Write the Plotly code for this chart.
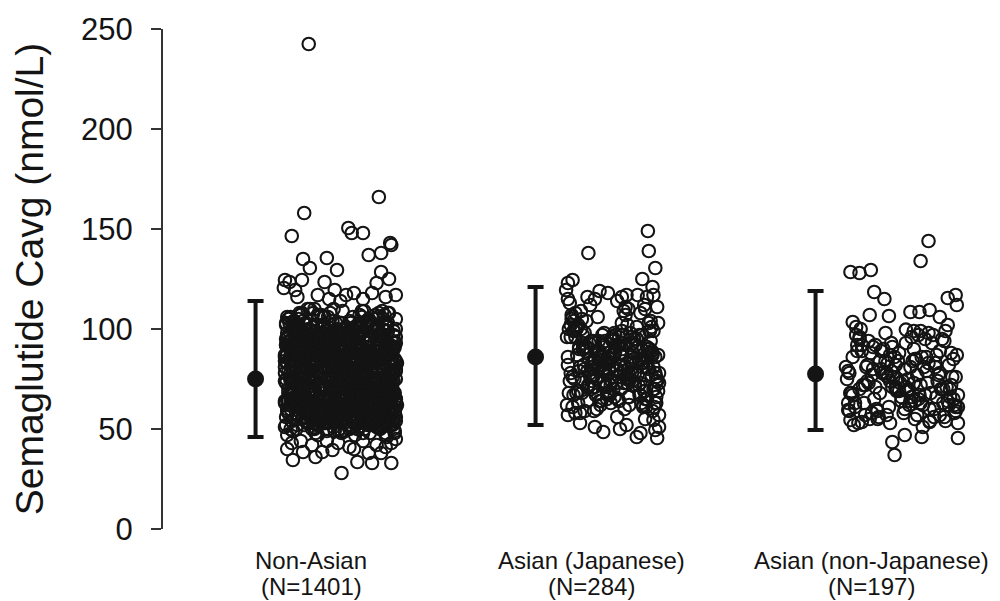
import plotly.graph_objects as go

# ---------------- data ----------------
group_names = ["Non-Asian", "Asian (Japanese)", "Asian (non-Japanese)"]
group_counts = ["(N=1401)", "(N=284)", "(N=197)"]
means = [75, 86, 77.5]
lower = [46, 52, 49.5]
upper = [114, 121, 119]
y_ticks = [0, 50, 100, 150, 200, 250]

# Non-Asian individual Cavg values (nmol/L)
nonasian_vals = [
    242.5, 166, 158, 146.5, 150.5, 148, 148, 143, 142, 138, 137, 135, 135.5, 130.5, 129.5, 128.5, 125, 123, 123.5, 124.5,
    123.5, 124.5, 120.5, 119.5, 119.5, 117, 118, 116, 117, 115, 118, 116, 115, 117, 114,
    43, 38.5, 34.5, 38.5, 39.5, 41, 33.5, 33, 38, 38, 33, 28, 43, 42, 40, 44, 41, 36, 43, 40, 44, 42, 45, 44,
    72, 58, 91, 64, 103, 49, 85, 77, 61, 96, 55, 88, 68, 107, 52, 79, 94, 63, 71, 99,
    83, 47, 66, 101, 59, 74, 92, 56, 109, 70, 62, 87, 50, 81, 97, 65, 76, 54, 90, 68,
    60, 95, 73, 51, 86, 104, 67, 78, 57, 93, 69, 48, 84, 100, 62, 75, 89, 53, 106, 66,
    98, 71, 55, 82, 64, 110, 59, 88, 73, 46, 94, 67, 80, 58, 102, 76, 52, 91, 69, 85,
    63, 79, 108, 54, 90, 72, 61, 97, 50, 84, 66, 105, 57, 77, 93, 60, 87, 70, 49, 99,
    74, 56, 89, 68, 103, 62, 81, 95, 53, 71, 86, 59, 100, 65, 78, 48, 92, 73, 107, 57,
    88, 64, 51, 96, 70, 83, 58, 109, 67, 75, 47, 91, 62, 80, 98, 55, 72, 86, 61, 94,
    53, 102, 77, 65, 87, 60, 93, 49, 79, 71, 104, 56, 84, 68, 97, 52, 90, 74, 63, 82,
    95, 69, 58, 106, 73, 50, 85, 64, 99, 61, 78, 89, 54, 70, 101, 66, 83, 57, 92, 76,
    67, 81, 94, 55, 72, 108, 63, 86, 48, 77, 91, 59, 68, 103, 74, 52, 96, 65, 80, 87,
    58, 73, 100, 62, 89, 56, 79, 93, 66, 51, 84, 105, 60, 75, 97, 69, 54, 88, 71, 110,
    82, 49, 65, 91, 76, 60, 98, 70, 55, 87, 63, 102, 78, 57, 94, 68, 81, 50, 74, 99,
    71, 96, 57, 84, 66, 107, 53, 80, 92, 64, 73, 48, 89, 61, 101, 77, 58, 95, 67, 83,
    104, 62, 78, 50, 93, 69, 85, 59, 97, 74, 56, 88, 65, 109, 52, 81, 70, 91, 60, 76,
    55, 90, 68, 99, 72, 61, 83, 47, 95, 66, 79, 103, 57, 86, 73, 64, 98, 51, 77, 92,
    64, 85, 52, 78, 106, 58, 91, 70, 62, 100, 75, 54, 87, 69, 96, 59, 82, 72, 49, 101,
    93, 57, 76, 63, 88, 50, 74, 97, 67, 81, 60, 108, 53, 79, 90, 65, 71, 85, 56, 98,
    61, 80, 102, 69, 54, 94, 73, 58, 86, 65, 92, 77, 49, 84, 67, 105, 62, 89, 75, 53,
    79, 66, 92, 56, 99, 71, 63, 87, 52, 76, 97, 60, 82, 70, 55, 94, 68, 101, 59, 85,
    50, 88, 70, 95, 61, 83, 57, 104, 74, 66, 90, 53, 78, 99, 64, 72, 86, 58, 93, 69,
    86, 59, 73, 107, 65, 52, 96, 68, 80, 57, 89, 62, 102, 75, 48, 83, 71, 97, 63, 77,
    68, 100, 54, 81, 92, 60, 76, 49, 88, 71, 64, 95, 58, 85, 110, 67, 79, 55, 91, 74,
    97, 63, 85, 58, 72, 103, 51, 90, 66, 78, 56, 93, 69, 61, 87, 74, 99, 53, 80, 65,
    57, 91, 67, 79, 53, 86, 70, 98, 62, 84, 73, 47, 96, 64, 76, 58, 89, 106, 60, 82,
    75, 52, 98, 64, 87, 59, 81, 69, 94, 55, 102, 66, 74, 91, 50, 78, 63, 95, 70, 57,
    89, 69, 60, 93, 76, 65, 108, 54, 72, 85, 61, 80, 56, 99, 68, 92, 51, 74, 87, 62,
    62, 84, 73, 51, 97, 79, 58, 88, 65, 101, 70, 53, 90, 63, 77, 96, 59, 83, 67, 104,
    101, 56, 87, 72, 60, 94, 67, 77, 50, 89, 64, 98, 71, 58, 84, 66, 93, 61, 75, 52,
    73, 95, 63, 86, 69, 55, 91, 80, 59, 106, 75, 62, 85, 52, 97, 70, 64, 88, 57, 81,
    54, 77, 82, 61, 100, 66, 59, 93, 71, 48, 86, 68, 79, 94, 60, 74, 103, 65, 90, 72,
    66, 92, 57, 81, 74, 103, 60, 87, 52, 95, 70, 78, 63, 99, 84, 55, 91, 68, 106, 73,
    85, 61, 97, 72, 50, 89, 66, 80, 58, 101, 76, 93, 64, 87, 53, 82, 70, 108, 61, 95,
    59, 77, 88, 65, 104, 71, 54, 92, 79, 67, 98, 62, 86, 73, 57, 90, 69, 103, 75, 51,
    94, 68, 81, 56, 99, 64, 87, 76, 60, 105, 72, 84, 58, 96, 67, 79, 91, 54, 88, 63,
    71, 102, 62, 90, 77, 53, 95, 69, 83, 61, 100, 74, 57, 89, 66, 107, 80, 59, 93, 70,
    52, 86, 73, 98, 64, 82, 59, 110, 70, 91, 55, 78, 96, 67, 84, 62, 101, 75, 58, 89,
    97, 60, 79, 67, 93, 56, 88, 74, 103, 63, 81, 70, 52, 99, 76, 65, 92, 83, 57, 106,
    64, 90, 55, 85, 72, 100, 61, 94, 68, 78, 108, 57, 87, 71, 97, 59, 82, 66, 104, 74,
    80, 69, 96, 58, 87, 75, 62, 101, 54, 92, 67, 83, 74, 60, 95, 78, 50, 88, 69, 98,
    58, 103, 76, 64, 91, 53, 84, 70, 97, 66, 79, 61, 106, 73, 86, 56, 93, 65, 81, 62,
    90, 65, 82, 73, 56, 98, 67, 77, 88, 59, 104, 71, 63, 92, 54, 85, 75, 99, 68, 79,
    75, 57, 94, 61, 86, 70, 109, 55, 80, 96, 64, 89, 72, 58, 101, 83, 66, 91, 60, 87,
    62, 99, 68, 88, 77, 54, 92, 81, 65, 73, 97, 59, 84, 106, 69, 76, 57, 94, 71, 52,
    87, 73, 60, 105, 66, 91, 58, 83, 71, 100, 62, 78, 95, 53, 88, 64, 80, 68, 102, 59,
    68, 84, 100, 57, 79, 63, 96, 72, 89, 55, 86, 69, 107, 61, 74, 93, 65, 82, 56, 90,
    99, 54, 77, 93, 62, 85, 70, 58, 102, 76, 67, 91, 57, 80, 97, 63, 87, 74, 51, 83,
    56, 95, 66, 74, 108, 60, 81, 89, 64, 70, 93, 53, 98, 76, 59, 85, 72, 104, 67, 78,
    83, 70, 90, 52, 86, 67, 99, 63, 76, 94, 58, 82, 69, 101, 65, 88, 55, 79, 92, 61,
    77, 62, 85, 96, 59, 103, 73, 68, 91, 57, 80, 66, 88, 74, 105, 60, 97, 71, 54, 86,
    60, 89, 71, 65, 97, 78, 55, 93, 84, 62, 75, 99, 61, 87, 70, 56, 96, 81, 66, 100,
]
# horizontal jitter rank (0-100) of each Non-Asian point within its cloud
nonasian_jit = [
    22, 84, 18, 7, 57, 60, 70, 94, 95, 86, 75, 17, 38, 23, 47, 86, 93, 82, 36, 1,
    5, 16, 0, 10, 45, 30, 62, 90, 55, 70, 78, 12, 40, 99, 50,
    7, 17, 8, 34, 43, 58, 65, 78, 75, 86, 95, 51, 95, 25, 3, 70, 90, 28, 48, 62, 15, 82, 99, 38,
    12, 67, 34, 89, 5, 51, 78, 23, 95, 41, 60, 8, 73, 30, 86, 17, 55, 99, 38, 70,
    44, 3, 81, 26, 62, 92, 15, 49, 71, 36, 7, 84, 58, 20, 97, 64, 29, 76, 10, 53,
    88, 25, 57, 1, 69, 43, 94, 14, 80, 32, 66, 98, 22, 47, 75, 6, 90, 39, 61, 18,
    35, 72, 9, 52, 83, 27, 65, 40, 2, 91, 19, 77, 46, 87, 13, 59, 31, 96, 68, 24,
    79, 16, 93, 45, 21, 74, 56, 11, 85, 63, 37, 4, 70, 28, 99, 48, 82, 33, 54, 92,
    6, 58, 39, 97, 67, 10, 42, 88, 26, 50, 81, 19, 62, 93, 35, 76, 2, 57, 15, 85,
    64, 30, 83, 18, 48, 95, 22, 69, 7, 40, 90, 54, 13, 77, 45, 28, 86, 61, 99, 37,
    21, 91, 52, 73, 3, 60, 33, 98, 44, 84, 17, 66, 29, 89, 11, 74, 41, 8, 56, 94,
    50, 14, 68, 36, 87, 25, 79, 1, 58, 31, 96, 43, 75, 20, 63, 9, 82, 47, 23, 71,
    93, 39, 5, 80, 55, 16, 72, 46, 90, 12, 65, 34, 97, 51, 27, 86, 4, 61, 78, 32,
    27, 83, 60, 11, 42, 99, 30, 74, 19, 66, 49, 88, 6, 57, 35, 92, 70, 15, 81, 44,
    73, 8, 48, 94, 24, 67, 3, 53, 85, 38, 14, 79, 59, 31, 90, 22, 46, 97, 63, 10,
    16, 62, 87, 41, 76, 33, 91, 20, 55, 4, 71, 28, 96, 45, 68, 12, 84, 37, 52, 100,
    58, 35, 18, 65, 9, 82, 47, 95, 30, 77, 23, 61, 40, 87, 2, 54, 93, 26, 74, 43,
    97, 70, 44, 28, 89, 53, 14, 63, 36, 91, 8, 46, 81, 17, 59, 78, 32, 66, 5, 85,
    3, 49, 76, 58, 31, 94, 68, 25, 83, 10, 57, 99, 21, 72, 43, 88, 15, 50, 38, 64,
    84, 22, 95, 7, 71, 39, 60, 87, 13, 48, 80, 26, 67, 4, 92, 35, 56, 19, 77, 30,
    40, 66, 29, 86, 50, 18, 90, 11, 64, 99, 34, 73, 45, 9, 61, 82, 24, 95, 6, 53,
    69, 13, 54, 38, 97, 75, 1, 42, 79, 22, 88, 56, 16, 68, 33, 47, 98, 8, 85, 27,
    11, 92, 62, 20, 45, 85, 36, 76, 52, 28, 6, 70, 93, 39, 81, 14, 59, 43, 67, 96,
    46, 31, 80, 67, 15, 57, 99, 4, 89, 61, 25, 41, 74, 2, 51, 96, 37, 83, 19, 60,
    91, 55, 7, 43, 82, 30, 63, 48, 17, 94, 71, 12, 35, 86, 23, 65, 9, 78, 54, 28,
    24, 78, 41, 93, 59, 2, 87, 32, 70, 15, 45, 97, 8, 62, 77, 39, 20, 91, 49, 13,
    62, 4, 69, 24, 36, 90, 18, 58, 100, 47, 83, 30, 54, 11, 95, 26, 73, 6, 42, 80,
    7, 86, 33, 78, 92, 47, 55, 15, 41, 74, 2, 65, 27, 98, 49, 60, 88, 21, 71, 36,
    76, 47, 97, 14, 63, 21, 84, 38, 66, 5, 89, 51, 17, 79, 32, 94, 44, 62, 1, 57,
    33, 99, 20, 59, 6, 71, 26, 92, 46, 83, 58, 37, 87, 23, 68, 3, 52, 14, 97, 75,
    55, 19, 89, 45, 77, 40, 8, 67, 27, 60, 99, 17, 64, 42, 6, 83, 31, 72, 90, 12,
    87, 60, 10, 73, 25, 96, 49, 81, 3, 35, 64, 89, 20, 56, 85, 41, 76, 29, 63, 47,
    19, 42, 75, 31, 54, 12, 66, 23, 94, 70, 39, 7, 99, 48, 16, 57, 90, 68, 34, 81,
    53, 8, 71, 36, 94, 19, 62, 45, 87, 2, 77, 30, 58, 13, 96, 41, 69, 24, 83, 50,
    17, 90, 39, 64, 6, 81, 28, 55, 98, 12, 47, 73, 33, 88, 21, 60, 4, 92, 43, 66,
    84, 26, 57, 10, 75, 48, 93, 31, 67, 5, 52, 86, 19, 71, 38, 97, 14, 59, 80, 27,
    40, 63, 1, 89, 24, 70, 12, 54, 35, 99, 61, 8, 83, 44, 26, 68, 91, 20, 57, 76,
    95, 34, 76, 51, 13, 87, 42, 68, 3, 59, 22, 93, 48, 74, 10, 81, 36, 63, 29, 7,
    29, 72, 16, 43, 85, 56, 98, 21, 79, 33, 69, 1, 40, 92, 57, 15, 77, 46, 88, 11,
    66, 3, 88, 25, 60, 37, 74, 9, 50, 84, 14, 65, 96, 27, 70, 45, 2, 82, 53, 39,
    8, 47, 61, 79, 32, 99, 18, 86, 23, 67, 41, 89, 6, 56, 34, 94, 62, 16, 73, 97,
    78, 58, 30, 95, 48, 11, 66, 39, 91, 4, 80, 27, 55, 18, 85, 49, 71, 32, 9, 60,
    36, 92, 44, 7, 73, 62, 25, 81, 15, 52, 97, 37, 69, 87, 1, 64, 28, 90, 46, 21,
    89, 19, 68, 54, 2, 31, 93, 59, 43, 75, 9, 57, 23, 80, 63, 12, 99, 40, 66, 84,
    14, 77, 5, 86, 41, 70, 52, 16, 99, 29, 63, 83, 34, 48, 91, 22, 55, 7, 78, 43,
    59, 38, 97, 20, 67, 83, 7, 46, 74, 11, 35, 95, 60, 3, 26, 88, 47, 72, 31, 94,
    25, 65, 49, 13, 90, 42, 79, 28, 58, 87, 17, 50, 74, 97, 39, 6, 64, 85, 20, 54,
    71, 1, 82, 62, 34, 17, 55, 95, 8, 44, 68, 24, 89, 30, 79, 59, 13, 37, 92, 65,
    46, 87, 22, 75, 56, 98, 31, 4, 65, 19, 84, 51, 11, 71, 42, 95, 26, 61, 82, 3,
    92, 29, 60, 39, 14, 73, 87, 50, 35, 96, 3, 77, 43, 62, 20, 54, 85, 9, 48, 68,
    3, 54, 91, 18, 80, 26, 45, 72, 12, 61, 38, 99, 16, 83, 52, 31, 70, 93, 5, 41,
    63, 82, 35, 70, 47, 8, 96, 24, 86, 55, 29, 66, 92, 1, 75, 17, 44, 58, 88, 33,
    20, 44, 13, 99, 27, 64, 50, 90, 18, 76, 93, 10, 57, 36, 82, 68, 23, 96, 39, 74,
]

# Asian (Japanese) individual values
japanese_vals = [
    149, 139, 138, 130.5, 125, 121, 123, 124.5, 119.5, 116, 117, 117, 118, 116, 119,
    53, 51, 62, 57, 48, 45.5, 54.5, 51, 48.5, 46, 49.5, 57, 56, 52, 59, 55, 50, 58,
    88, 72, 101, 65, 94, 79, 110, 83, 68, 97, 76, 90, 61, 105, 85, 74, 99, 81, 70, 92,
    78, 96, 63, 87, 112, 73, 91, 67, 84, 103, 80, 59, 95, 71, 86, 108, 75, 93, 66, 89,
    82, 69, 98, 77, 115, 64, 90, 85, 72, 100, 79, 62, 94, 87, 107, 70, 83, 96, 74, 81,
    91, 75, 60, 99, 84, 68, 104, 78, 93, 71, 88, 113, 66, 80, 97, 76, 86, 63, 102, 73,
    85, 101, 70, 92, 79, 109, 65, 87, 75, 96, 82, 67, 111, 89, 77, 94, 61, 84, 99, 72,
    77, 90, 83, 64, 106, 74, 95, 81, 69, 88, 116, 78, 92, 62, 86, 100, 73, 97, 80, 68,
    96, 66, 87, 103, 71, 82, 91, 58, 79, 110, 85, 74, 98, 67, 93, 76, 89, 105, 64, 83,
    70, 94, 78, 86, 99, 61, 84, 114, 73, 90, 77, 102, 68, 88, 81, 95, 72, 107, 75, 91,
    83, 108, 67, 97, 76, 89, 63, 92, 80, 104, 71, 85, 96, 74, 112, 79, 66, 93, 87, 60,
    101, 79, 92, 72, 85, 117, 69, 94, 82, 62, 98, 75, 88, 106, 70, 91, 84, 65, 95, 78,
    74, 87, 99, 68, 93, 81, 103, 76, 90, 64, 97, 83, 71, 109, 86, 77, 100, 63, 89, 80,
    92, 63, 80, 95, 75, 100, 86, 71, 111, 82, 67, 94, 78, 90, 73, 98, 61, 85, 104, 88,
    69, 97, 84, 76, 102, 59, 88, 79, 93, 72, 115, 81, 65, 96, 87, 74, 91, 83, 68, 99,
]
japanese_jit = [
    88, 89, 24, 96, 82, 93, 2, 7, 0, 23, 77, 94, 45, 60, 36,
    15, 31, 1, 2, 80, 98, 94, 100, 40, 76, 96, 100, 55, 65, 30, 85, 58, 10,
    34, 78, 12, 56, 91, 23, 67, 45, 3, 82, 29, 60, 95, 17, 73, 40, 8, 86, 51, 64,
    71, 5, 48, 93, 26, 62, 14, 80, 37, 99, 55, 20, 76, 42, 88, 10, 65, 31, 97, 53,
    19, 84, 41, 68, 2, 57, 90, 25, 74, 11, 46, 83, 35, 61, 6, 94, 28, 70, 49, 15,
    87, 33, 63, 9, 79, 44, 22, 96, 58, 30, 72, 4, 52, 89, 18, 66, 39, 81, 13, 100,
    47, 92, 27, 75, 54, 16, 85, 38, 69, 1, 59, 32, 98, 21, 77, 50, 7, 43, 90, 24,
    62, 18, 83, 36, 7, 71, 49, 94, 13, 58, 87, 26, 41, 68, 96, 3, 54, 79, 30, 45,
    10, 67, 52, 89, 24, 40, 77, 15, 63, 85, 35, 98, 20, 47, 72, 57, 92, 6, 38, 81,
    95, 29, 74, 2, 60, 86, 31, 55, 80, 19, 44, 66, 11, 93, 28, 76, 48, 64, 17, 53,
    42, 80, 8, 61, 97, 35, 13, 70, 46, 91, 23, 78, 57, 4, 84, 39, 68, 25, 99, 33,
    76, 14, 56, 43, 81, 65, 99, 27, 50, 37, 69, 9, 90, 34, 59, 21, 88, 44, 73, 5,
    28, 50, 94, 17, 39, 82, 60, 7, 88, 23, 53, 75, 31, 62, 45, 92, 16, 97, 36, 70,
    55, 96, 20, 73, 47, 11, 36, 84, 64, 2, 79, 42, 100, 14, 66, 52, 83, 30, 8, 60,
    85, 39, 69, 26, 5, 93, 58, 41, 18, 74, 31, 63, 87, 50, 12, 97, 22, 71, 46, 90,
]

# Asian (non-Japanese) individual values
nonjapanese_vals = [
    144, 134, 128.5, 128, 129.5, 118.5, 115, 115.5, 117, 112, 103.5, 107, 106.5, 108.5, 108.5, 109.5, 106, 102, 99.7, 99,
    99, 93, 81, 54.5, 53.5, 59.5, 53, 43.5, 37, 47, 46, 45.5, 53, 53.5,
    72, 85, 61, 94, 68, 79, 56, 88, 74, 63, 97, 70, 82, 58, 90, 66, 77, 53, 86, 71,
    64, 91, 75, 59, 83, 69, 100, 62, 78, 87, 55, 73, 95, 67, 80, 60, 89, 76, 57, 84,
    81, 57, 70, 96, 65, 74, 52, 86, 68, 92, 77, 61, 84, 71, 99, 63, 79, 56, 88, 67,
    59, 78, 89, 66, 73, 98, 62, 81, 55, 70, 87, 75, 64, 93, 58, 82, 69, 96, 72, 61,
    93, 68, 54, 80, 71, 63, 90, 76, 85, 60, 67, 101, 73, 57, 83, 65, 94, 70, 78, 62,
    66, 88, 77, 51, 95, 72, 69, 84, 60, 79, 64, 91, 56, 74, 86, 68, 59, 81, 97, 71,
    76, 62, 97, 73, 58, 86, 81, 67, 92, 70, 54, 78, 89, 63, 75, 98, 61, 84, 66, 80,
    85, 70, 63, 82, 76, 55, 74, 95, 68, 89, 72, 60, 83, 77, 65, 92, 57, 71, 87, 64,
]
nonjapanese_jit = [
    73, 66, 4, 12, 22, 25, 34, 90, 97, 98, 6, 21, 38, 57, 65, 74, 83, 90, 53, 60,
    66, 40, 0, 4, 14, 2, 39, 41, 43, 52, 67, 99, 99, 74,
    15, 62, 38, 87, 4, 71, 29, 93, 50, 8, 77, 44, 19, 96, 33, 58, 82, 11, 67, 41,
    90, 24, 55, 3, 79, 47, 13, 68, 36, 98, 21, 60, 85, 6, 52, 74, 31, 94, 17, 46,
    69, 36, 92, 58, 25, 81, 7, 43, 75, 14, 63, 97, 30, 53, 88, 2, 40, 78, 22, 65,
    28, 83, 10, 49, 72, 35, 96, 18, 61, 84, 39, 1, 57, 76, 23, 91, 45, 12, 66, 99,
    53, 5, 74, 31, 89, 16, 60, 42, 95, 27, 70, 9, 48, 83, 37, 64, 20, 86, 3, 56,
    80, 47, 23, 68, 12, 93, 54, 35, 78, 2, 61, 41, 87, 19, 71, 30, 97, 57, 9, 44,
    37, 91, 64, 20, 51, 6, 79, 99, 26, 55, 88, 32, 14, 66, 45, 73, 8, 59, 92, 24,
    61, 12, 86, 44, 97, 28, 39, 70, 4, 83, 17, 52, 73, 35, 95, 10, 63, 26, 80, 49,
]

# ---------------- layout constants ----------------
FONT = "Liberation Sans, Arial, Helvetica, sans-serif"
INK = "#141414"
positions = [1, 2, 3]
errbar_offset = -0.198
cloud_offset = [0.105, 0.077, 0.1125]
cloud_half = [0.202, 0.166, 0.202]

fig = go.Figure()

point_sets = [(nonasian_vals, nonasian_jit), (japanese_vals, japanese_jit), (nonjapanese_vals, nonjapanese_jit)]
for i, (vals, jit) in enumerate(point_sets):
    n = min(len(vals), len(jit))
    xs = [positions[i] + cloud_offset[i] + (jit[k] / 100.0 * 2 - 1) * cloud_half[i] for k in range(n)]
    fig.add_trace(go.Scatter(
        x=xs, y=vals[:n], mode="markers",
        marker=dict(symbol="circle-open", size=12.5, color=INK, line=dict(width=2.1, color=INK)),
        showlegend=False, hoverinfo="y",
    ))

fig.add_trace(go.Scatter(
    x=[p + errbar_offset for p in positions], y=means, mode="markers",
    marker=dict(symbol="circle", size=17, color=INK),
    error_y=dict(type="data", symmetric=False,
                 array=[u - m for u, m in zip(upper, means)],
                 arrayminus=[m - l for m, l in zip(means, lower)],
                 thickness=4, width=8, color=INK),
    showlegend=False,
))

# category labels: two lines under the plot, placed as annotations at each category
for p, name, cnt in zip(positions, group_names, group_counts):
    fig.add_annotation(x=p, y=0, xref="x", yref="paper", text=name, showarrow=False,
                       yanchor="middle", yshift=-31, font=dict(size=24, family=FONT, color=INK))
    fig.add_annotation(x=p, y=0, xref="x", yref="paper", text=cnt, showarrow=False,
                       yanchor="middle", yshift=-57, font=dict(size=24, family=FONT, color=INK))

# page has an 8px body margin, so the figure is 992x593 to fit the 1000x601 window
FIG_W, FIG_H = 992, 593
PX_PER_UNIT = 280.0
left_m, right_m, top_m, bot_m = 155, 10, 21, 72
plot_w = FIG_W - left_m - right_m
x0 = 1 - (303 - left_m) / PX_PER_UNIT
x1 = x0 + plot_w / PX_PER_UNIT

fig.update_layout(
    width=FIG_W, height=FIG_H,
    margin=dict(l=left_m, r=right_m, t=top_m, b=bot_m),
    paper_bgcolor="white", plot_bgcolor="white",
    font=dict(family=FONT, color=INK),
    showlegend=False,
    xaxis=dict(
        range=[x0, x1], tickvals=positions, showticklabels=False, automargin=False,
        showline=False, showgrid=False, zeroline=False, ticks="",
    ),
    yaxis=dict(
        range=[0, 250], tickvals=y_ticks, showgrid=False, zeroline=False, automargin=False,
        showline=True, linewidth=2, linecolor="#333333",
        ticks="outside", ticklen=10, tickwidth=2, tickcolor="#333333",
        tickfont=dict(size=31, family=FONT, color=INK), ticklabelstandoff=12,
        title=dict(text="Semaglutide Cavg (nmol/L)", font=dict(size=39, family=FONT, color=INK), standoff=42),
    ),
)

fig.write_html("out.html")
